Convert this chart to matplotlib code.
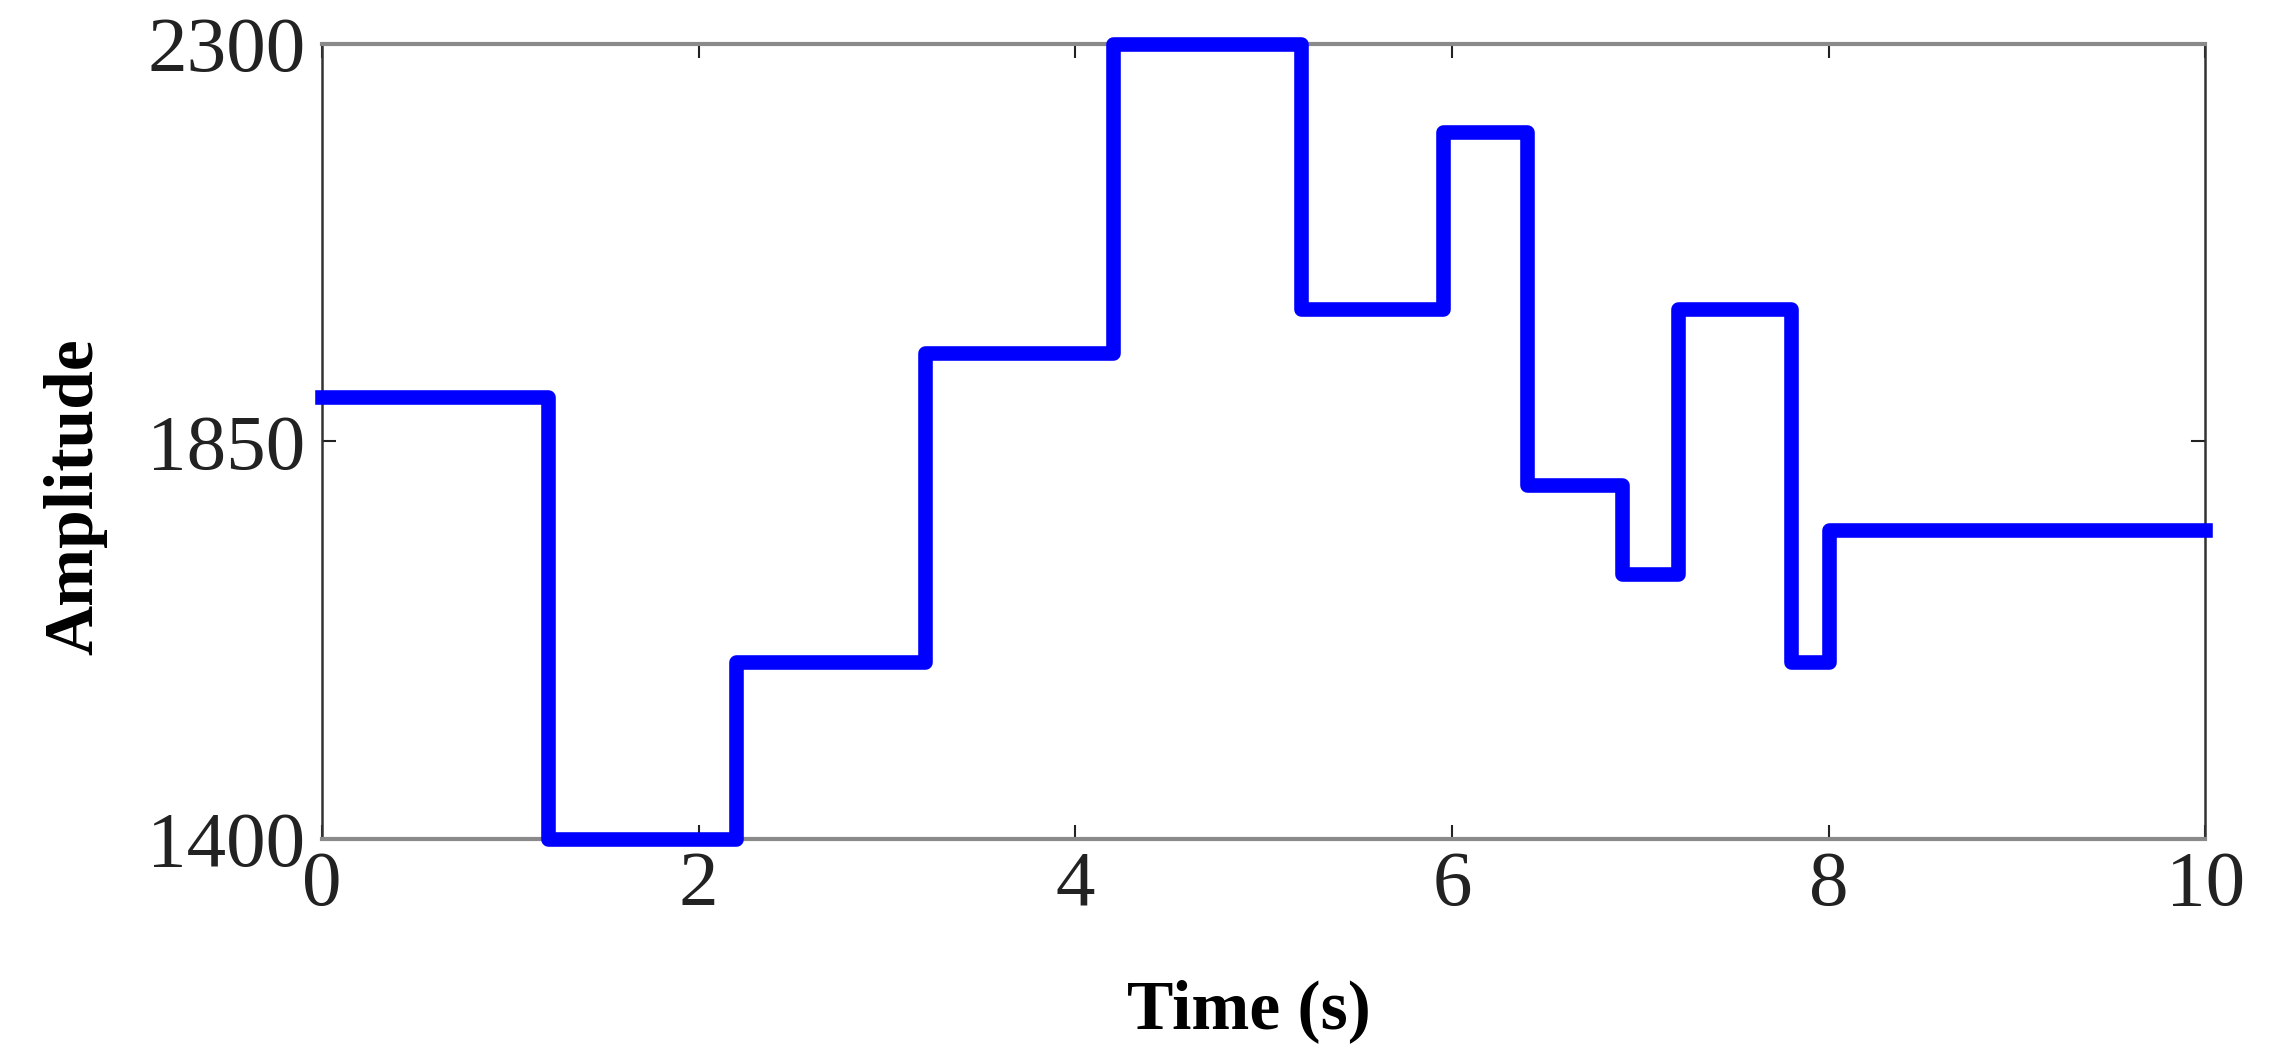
import matplotlib
matplotlib.use("Agg")
import matplotlib.pyplot as plt

# Data: breakpoints (s) and amplitude held from each breakpoint (step, post)
times = [0, 1.2, 2.2, 3.2, 4.2, 5.2, 5.95, 6.4, 6.9, 7.2, 7.8, 8.0, 10]
amps = [1900, 1400, 1600, 1950, 2300, 2000, 2200, 1800, 1700, 2000, 1600, 1750, 1750]
xticks = [0, 2, 4, 6, 8, 10]
yticks = [1400, 1850, 2300]

plt.rcParams['font.family'] = ['Liberation Serif', 'DejaVu Serif']

fig = plt.figure(figsize=(22.76, 10.62), dpi=100)
ax = fig.add_axes([0.1415, 0.21, 0.8275, 0.749])

ax.step(times, amps, where='post', color='#0000FF', linewidth=10.5, clip_on=False,
        solid_joinstyle='round', zorder=3)

ax.set_xlim(0, 10)
ax.set_ylim(1400, 2300)
ax.set_xticks(xticks)
ax.set_yticks(yticks)
ax.tick_params(direction='in', length=10, width=1.5, top=True, right=True,
               labelsize=57, colors='#222222')
ax.tick_params(axis='x', pad=8)
ax.tick_params(axis='y', pad=12)

for s in ['left', 'right']:
    ax.spines[s].set_color('#333333')
    ax.spines[s].set_linewidth(1.8)
for s in ['top', 'bottom']:
    ax.spines[s].set_color('#8a8a8a')
    ax.spines[s].set_linewidth(3)

ax.set_xlabel('Time (s)', fontsize=50, fontweight='bold')
ax.set_ylabel('Amplitude', fontsize=50, fontweight='bold')
ax.xaxis.set_label_coords(0.492, -0.176)
ax.yaxis.set_label_coords(-0.114, 0.43)

fig.savefig('out.png', dpi=100, facecolor='white')
